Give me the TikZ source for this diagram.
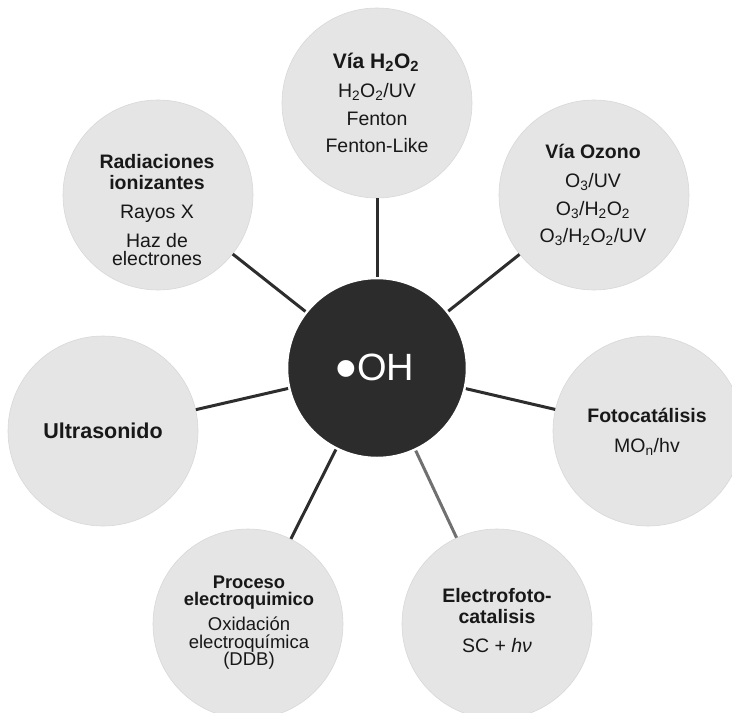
\documentclass[tikz,border=0pt]{standalone}
\usepackage{fontspec}
\setmainfont{Liberation Sans}
\definecolor{cBubble}{RGB}{229,229,229}
\definecolor{cBubbleEdge}{RGB}{216,216,216}
\definecolor{cCore}{RGB}{44,44,44}
\definecolor{cInk}{RGB}{24,24,24}
\definecolor{cSpoke}{RGB}{45,45,45}
\definecolor{cSpokeLight}{RGB}{112,112,112}
\newcommand{\sub}[1]{\textsubscript{#1}}
\begin{document}
\begin{tikzpicture}[x=1pt,y=-1pt,
  bubble/.style={circle,fill=cBubble,draw=cBubbleEdge,line width=0.6pt,minimum size=190pt,inner sep=0pt},
  hub/.style={circle,fill=cCore,draw=white,line width=2.5pt,minimum size=180pt,inner sep=0pt},
  spokeline/.style={draw=cSpoke,line width=3pt},
  head/.style={anchor=base,inner sep=0pt,text=cInk,font=\fontsize{19.5}{22}\selectfont\bfseries},
  item/.style={anchor=base,inner sep=0pt,text=cInk,font=\fontsize{19.5}{22}\selectfont},
  smallhead/.style={head,font=\fontsize{18.3}{20}\selectfont\bfseries},
  smallitem/.style={item,font=\fontsize{18.5}{20}\selectfont},
]
\useasboundingbox (0,0) rectangle (732,713);
\clip (0,0) rectangle (732,713);

% central radical and the seven routes around it
\node[hub] (hub) at (377,368) {};
\node[bubble] (h2o2) at (377,103) {};
\node[bubble] (ozono) at (594,195) {};
\node[bubble] (foto) at (648,431) {};
\node[bubble] (elec) at (497,624) {};
\node[bubble] (proc) at (248,624) {};
\node[bubble] (ultra) at (103,431) {};
\node[bubble] (rad) at (158,195) {};

% spokes
\draw[spokeline] (hub) -- (h2o2);
\draw[spokeline] (hub) -- (ozono);
\draw[spokeline] (hub) -- (foto);
\draw[spokeline,draw=cSpokeLight] (hub) -- (elec);
\draw[spokeline] (hub) -- (proc);
\draw[spokeline] (hub) -- (ultra);
\draw[spokeline] (hub) -- (rad);

% hub label
\node[anchor=base,inner sep=0pt,text=white,font=\fontsize{38}{40}\selectfont] (oh) at (375,380)
  {\raisebox{-9pt}{\fontsize{62}{62}\selectfont •}OH};

% via H2O2
\node[head,font=\fontsize{21}{24}\selectfont\bfseries] (t1) at (376,68) {Vía H\sub{2}O\sub{2}};
\node[item] (t1a) at (377,97) {H\sub{2}O\sub{2}/UV};
\node[item] (t1b) at (377,125) {Fenton};
\node[item] (t1c) at (377,152) {Fenton-Like};

% via ozono
\node[head] (t2) at (593,158) {Vía Ozono};
\node[item] (t2a) at (593,187) {O\sub{3}/UV};
\node[item] (t2b) at (593,215) {O\sub{3}/H\sub{2}O\sub{2}};
\node[item] (t2c) at (593,242) {O\sub{3}/H\sub{2}O\sub{2}/UV};

% fotocatalisis
\node[head] (t3) at (647,422) {Fotocatálisis};
\node[item] (t3a) at (647,452) {MO\sub{n}/hv};

% electrofotocatalisis
\node[head] (t4) at (497,602) {Electrofoto-};
\node[head] (t4b) at (497,623) {catalisis};
\node[item] (t4a) at (497,652) {SC + \textit{hν}};

% proceso electroquimico
\node[smallhead] (t5) at (249,588) {Proceso};
\node[smallhead] (t5b) at (249,605) {electroquimico};
\node[smallitem] (t5a) at (249,630) {Oxidación};
\node[smallitem] (t5c) at (249,648) {electroquímica};
\node[smallitem] (t5d) at (249,665) {(DDB)};

% ultrasonido
\node[head,font=\fontsize{21.5}{24}\selectfont\bfseries] (t6) at (103,438) {Ultrasonido};

% radiaciones ionizantes
\node[head] (t7) at (157,168) {Radiaciones};
\node[head] (t7b) at (157,189) {ionizantes};
\node[item] (t7a) at (157,218) {Rayos X};
\node[item] (t7c) at (157,247) {Haz de};
\node[item] (t7d) at (157,265) {electrones};
\end{tikzpicture}
\end{document}
